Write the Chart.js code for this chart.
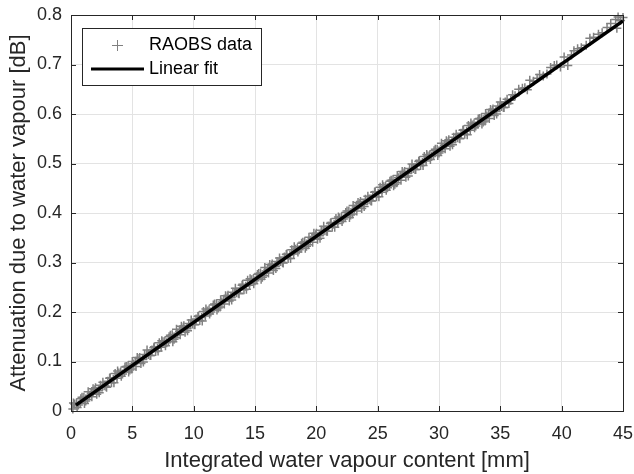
<!DOCTYPE html>
<html>
<head>
<meta charset="utf-8">
<script src="https://cdn.jsdelivr.net/npm/chart.js@4/dist/chart.umd.min.js"></script>
<style>
html,body{margin:0;padding:0;background:#fff;}
#wrap{width:634px;height:474px;}
</style>
</head>
<body>
<div id="wrap"><canvas id="c" width="634" height="474"></canvas></div>
<script>
// Scatter data (RAOBS)
const obsX = [0.3,0.6,0.9,1.2,1.5,1.8,2.1,2.4,2.7,3.0,3.3,3.6,3.9,4.2,4.5,4.8,5.1,5.4,5.7,6.0,
6.3,6.6,6.9,7.2,7.5,7.8,8.1,8.4,8.7,9.0,9.3,9.6,9.9,10.2,10.5,10.8,11.1,11.4,11.7,12.0,
12.3,12.6,12.9,13.2,13.5,13.8,14.1,14.4,14.7,15.0,15.3,15.6,15.9,16.2,16.5,16.8,17.1,17.4,17.7,18.0,
18.3,18.6,18.9,19.2,19.5,19.8,20.1,20.4,20.7,21.0,21.3,21.6,21.9,22.2,22.5,22.8,23.1,23.4,23.7,24.0,
24.3,24.6,24.9,25.2,25.5,25.8,26.1,26.4,26.7,27.0,27.3,27.6,27.9,28.2,28.5,28.8,29.1,29.4,29.7,30.0,
30.3,30.6,30.9,31.2,31.5,31.8,32.1,32.4,32.7,33.0,33.3,33.6,33.9,34.2,34.5,34.8,35.1,35.4,35.7,36.0,
36.5,37.0,37.4,38.0,38.5,39.1,39.6,40.2,40.8,41.3,42.0,42.6,43.3,44.0,44.4,44.8,44.6,45.0,44.5];
const obsY = [0.014,0.012,0.028,0.020,0.032,0.045,0.034,0.052,0.051,0.060,0.057,0.076,0.077,0.075,0.090,0.083,0.095,0.108,0.096,0.114,
0.114,0.123,0.120,0.138,0.140,0.138,0.153,0.145,0.157,0.171,0.159,0.177,0.176,0.186,0.183,0.201,0.202,0.200,0.216,0.208,
0.220,0.233,0.222,0.240,0.239,0.248,0.245,0.264,0.265,0.263,0.278,0.270,0.283,0.296,0.284,0.302,0.302,0.311,0.308,0.326,
0.327,0.326,0.341,0.333,0.345,0.359,0.347,0.365,0.364,0.373,0.371,0.389,0.390,0.388,0.404,0.396,0.408,0.421,0.409,0.428,
0.427,0.436,0.433,0.452,0.453,0.451,0.466,0.458,0.471,0.484,0.472,0.490,0.490,0.499,0.496,0.514,0.515,0.514,0.529,0.521,
0.533,0.546,0.535,0.553,0.552,0.561,0.559,0.577,0.578,0.576,0.591,0.584,0.596,0.609,0.597,0.616,0.615,0.624,0.621,0.639,
0.650,0.653,0.668,0.672,0.677,0.694,0.699,0.715,0.719,0.732,0.739,0.755,0.764,0.783,0.791,0.789,0.796,0.795,0.773];
// Second batch of RAOBS points
const obsX2 = [0.15,0.45,0.75,1.05,1.35,1.65,1.95,2.25,2.55,2.85,3.15,3.45,3.75,4.05,4.35,4.65,4.95,5.25,5.55,5.85,
6.15,6.45,6.75,7.05,7.35,7.65,7.95,8.25,8.55,8.85,9.15,9.45,9.75,10.05,10.35,10.65,10.95,11.25,11.55,11.85,
12.15,12.45,12.75,13.05,13.35,13.65,13.95,14.25,14.55,14.85,15.15,15.45,15.75,16.05,16.35,16.65,16.95,17.25,17.55,17.85,
18.15,18.45,18.75,19.05,19.35,19.65,19.95,20.25,20.55,20.85,21.15,21.45,21.75,22.05,22.35,22.65,22.95,23.25,23.55,23.85,
24.15,24.45,24.75,25.05,25.35,25.65,25.95,26.25,26.55,26.85,27.15,27.45,27.75,28.05,28.35,28.65,28.95,29.25,29.55,29.85,
30.15,30.45,30.75,31.05,31.35,31.65,31.95,32.25,32.55,32.85,33.15,33.45,33.75,34.05,34.35,34.65,34.95,35.25,35.55,35.85,
36.2,36.8,37.2,37.7,38.2,38.8,39.4,39.9,40.5,41.0,41.6,42.3,43.0,43.7];
const obsY2 = [0.004,0.016,0.016,0.028,0.023,0.036,0.043,0.041,0.050,0.050,0.066,0.064,0.066,0.079,0.079,0.091,0.085,0.098,0.106,0.104,
0.113,0.112,0.128,0.127,0.129,0.141,0.141,0.154,0.148,0.161,0.168,0.166,0.176,0.175,0.191,0.189,0.192,0.204,0.204,0.216,
0.210,0.224,0.231,0.229,0.238,0.238,0.254,0.252,0.254,0.266,0.267,0.279,0.273,0.286,0.294,0.292,0.301,0.300,0.316,0.315,
0.317,0.329,0.329,0.342,0.336,0.349,0.356,0.354,0.364,0.363,0.379,0.377,0.379,0.392,0.392,0.404,0.398,0.412,0.419,0.417,
0.426,0.425,0.442,0.440,0.442,0.454,0.455,0.467,0.461,0.474,0.481,0.480,0.489,0.488,0.504,0.502,0.505,0.517,0.517,0.529,
0.524,0.537,0.544,0.542,0.552,0.551,0.567,0.565,0.567,0.580,0.580,0.592,0.586,0.600,0.607,0.605,0.614,0.613,0.630,0.628,
0.637,0.652,0.649,0.666,0.680,0.681,0.698,0.695,0.698,0.728,0.734,0.753,0.761,0.775];
// Third batch of RAOBS points (outer edge of the band)
const obsX3 = [0.2,0.5,0.8,1.1,1.4,1.7,2.0,2.3,2.6,2.9,3.2,3.5,3.8,4.1,4.4,4.7,5.0,5.3,5.6,5.9,
6.2,6.5,6.8,7.1,7.4,7.7,8.0,8.3,8.6,8.9,9.2,9.5,9.8,10.1,10.4,10.7,11.0,11.3,11.6,11.9,
12.2,12.5,12.8,13.1,13.4,13.7,14.0,14.3,14.6,14.9,15.2,15.5,15.8,16.1,16.4,16.7,17.0,17.3,17.6,17.9,
18.2,18.5,18.8,19.1,19.4,19.7,20.0,20.3,20.6,20.9,21.2,21.5,21.8,22.1,22.4,22.7,23.0,23.3,23.6,23.9,
24.2,24.5,24.8,25.1,25.4,25.7,26.0,26.3,26.6,26.9,27.2,27.5,27.8,28.1,28.4,28.7,29.0,29.3,29.6,29.9,
30.2,30.5,30.8,31.1,31.4,31.7,32.0,32.3,32.6,32.9,33.2,33.5,33.8,34.1,34.4,34.7,35.0,35.3];
const obsY3 = [0.016,0.007,0.025,0.015,0.039,0.029,0.047,0.037,0.058,0.048,0.067,0.057,0.081,0.070,0.089,0.079,0.100,0.090,0.108,0.099,
0.123,0.112,0.130,0.121,0.142,0.132,0.150,0.140,0.165,0.154,0.172,0.162,0.184,0.174,0.192,0.182,0.206,0.196,0.214,0.204,
0.225,0.216,0.234,0.224,0.248,0.237,0.256,0.246,0.267,0.257,0.276,0.266,0.290,0.279,0.297,0.288,0.309,0.299,0.317,0.308,
0.332,0.321,0.339,0.329,0.351,0.341,0.359,0.349,0.373,0.363,0.381,0.371,0.392,0.383,0.401,0.391,0.415,0.404,0.423,0.413,
0.434,0.424,0.443,0.433,0.457,0.446,0.464,0.455,0.476,0.466,0.484,0.475,0.499,0.488,0.506,0.496,0.518,0.508,0.526,0.516,
0.541,0.530,0.548,0.538,0.559,0.550,0.568,0.558,0.582,0.572,0.590,0.580,0.601,0.591,0.610,0.600,0.624,0.613];
// Linear fit end points
const fitX = [0.4, 45];
const fitY = [0.012, 0.788];
// Ticks
const xTicks = [0,5,10,15,20,25,30,35,40,45];
const yTicks = [0,0.1,0.2,0.3,0.4,0.5,0.6,0.7,0.8];
const labels = {series: 'RAOBS data', fit: 'Linear fit', x: 'Integrated water vapour content [mm]', y: 'Attenuation due to water vapour [dB]'};

const FONT = 'Liberation Sans, Arial, Helvetica, sans-serif';
const TXT = '#262626';

const boxPlugin = {
  id: 'boxPlugin',
  afterDraw(chart) {
    const {ctx, chartArea: a, scales} = chart;
    ctx.save();
    ctx.strokeStyle = TXT;
    ctx.lineWidth = 1;
    ctx.beginPath();
    const L = 5;
    xTicks.forEach(v => {
      const px = Math.round(scales.x.getPixelForValue(v)) + 0.5;
      ctx.moveTo(px, a.bottom); ctx.lineTo(px, a.bottom - L);
      ctx.moveTo(px, a.top); ctx.lineTo(px, a.top + L);
    });
    yTicks.forEach(v => {
      const py = Math.round(scales.y.getPixelForValue(v)) + 0.5;
      ctx.moveTo(a.left, py); ctx.lineTo(a.left + L, py);
      ctx.moveTo(a.right, py); ctx.lineTo(a.right - L, py);
    });
    ctx.stroke();
    ctx.strokeRect(Math.round(a.left)+0.5, Math.round(a.top)+0.5, Math.round(a.right-a.left), Math.round(a.bottom-a.top));
    // legend
    const lx = a.left + 11, ly = a.top + 13, lw = 179, lh = 57;
    ctx.fillStyle = '#fff';
    ctx.fillRect(lx, ly, lw, lh);
    ctx.strokeStyle = TXT;
    ctx.strokeRect(lx + 0.5, ly + 0.5, lw, lh);
    ctx.strokeStyle = '#808080';
    ctx.beginPath();
    ctx.moveTo(lx + 35.5, ly + 12); ctx.lineTo(lx + 35.5, ly + 23);
    ctx.moveTo(lx + 30, ly + 17.5); ctx.lineTo(lx + 41, ly + 17.5);
    ctx.stroke();
    ctx.strokeStyle = '#000';
    ctx.lineWidth = 3;
    ctx.beginPath();
    ctx.moveTo(lx + 9, ly + 41); ctx.lineTo(lx + 62, ly + 41);
    ctx.stroke();
    ctx.fillStyle = '#000';
    ctx.font = '18px ' + FONT;
    ctx.textBaseline = 'middle';
    ctx.fillText(labels.series, lx + 67, ly + 17);
    ctx.fillText(labels.fit, lx + 67, ly + 41);
    ctx.restore();
  }
};

const cross = {pointStyle: 'cross', pointRadius: 4.5, borderColor: '#808080', backgroundColor: '#808080', borderWidth: 1.5, clip: false};
const noPad = s => { s.paddingLeft = 0; s.paddingRight = 0; s.paddingTop = 0; s.paddingBottom = 0; };

new Chart(document.getElementById('c'), {
  type: 'scatter',
  data: {
    datasets: [
      {
        label: labels.fit,
        data: fitX.map((x, i) => ({x, y: fitY[i]})),
        showLine: true,
        borderColor: '#000',
        borderWidth: 3.5,
        pointRadius: 0,
        order: 0
      },
      Object.assign({label: labels.series, data: obsX.map((x, i) => ({x, y: obsY[i]})), order: 1}, cross),
      Object.assign({label: labels.series + ' 2', data: obsX2.map((x, i) => ({x, y: obsY2[i]})), order: 2}, cross),
      Object.assign({label: labels.series + ' 3', data: obsX3.map((x, i) => ({x, y: obsY3[i]})), order: 3}, cross)
    ]
  },
  plugins: [boxPlugin],
  options: {
    responsive: false,
    animation: false,
    layout: {padding: {top: 15, right: 11, left: 0, bottom: 0}},
    plugins: {legend: {display: false}, tooltip: {enabled: false}},
    scales: {
      x: {
        type: 'linear', min: 0, max: 45,
        afterBuildTicks(s) { s.ticks = xTicks.map(v => ({value: v})); },
        afterFit(s) { s.height = 63; noPad(s); },
        grid: {color: '#e3e3e3', drawTicks: false},
        border: {display: false},
        ticks: {color: TXT, font: {family: FONT, size: 18}, padding: 12, callback: v => String(v)},
        title: {display: true, text: labels.x, color: TXT, font: {family: FONT, size: 22}, padding: {top: 0, bottom: 0}}
      },
      y: {
        type: 'linear', min: 0, max: 0.8,
        afterBuildTicks(s) { s.ticks = yTicks.map(v => ({value: v})); },
        afterFit(s) { s.width = 71; noPad(s); },
        grid: {color: '#e3e3e3', drawTicks: false},
        border: {display: false},
        ticks: {color: TXT, font: {family: FONT, size: 18}, padding: 9, callback: v => String(Math.round(v*10)/10)},
        title: {display: true, text: labels.y, color: TXT, font: {family: FONT, size: 22}, padding: {top: 6, bottom: 0}}
      }
    }
  }
});
</script>
</body>
</html>
